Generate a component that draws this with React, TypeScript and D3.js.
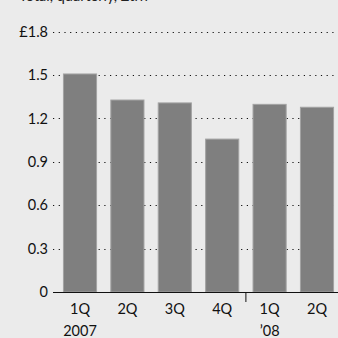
import React from "react";
import * as d3 from "d3";

const title = "Total, quarterly, £trn";
const categories = ["1Q 2007", "2Q 2007", "3Q 2007", "4Q 2007", "1Q 2008", "2Q 2008"];
const quarterLabels = ["1Q", "2Q", "3Q", "4Q", "1Q", "2Q"];
const yearLabels = ["2007", "", "", "", "’08", ""];
const values = [1.51, 1.33, 1.31, 1.06, 1.3, 1.28];
const yTicks = [0, 0.3, 0.6, 0.9, 1.2, 1.5, 1.8];

const W = 338;
const H = 338;
const FONT = "Lato, 'Open Sans', sans-serif";

export default function App() {
  const y = d3.scaleLinear().domain([0, 1.8]).range([292, 31.5]);
  const x = d3
    .scaleBand<string>()
    .domain(categories)
    .range([56.3, 340.7])
    .paddingInner(0.28)
    .paddingOuter(0.14);
  const fmt = (v: number) => (v === 0 ? "0" : v === 1.8 ? "£1.8" : d3.format(".1f")(v));
  const sepX = ((x(categories[3]) ?? 0) + x.bandwidth() + (x(categories[4]) ?? 0)) / 2;

  return (
    <div style={{ position: "fixed", left: 0, top: 0, width: W, height: H }}>
      <svg width={W} height={H} style={{ display: "block", background: "#ebebeb" }}>
        <text x={19} y={0.5} fontFamily={FONT} fontSize={14.5} fill="#222">
          {title}
        </text>
        {yTicks.map((t) =>
          t === 0 ? null : (
            <line
              key={"g" + t}
              x1={53}
              x2={W}
              y1={Math.round(y(t)) + 0.5}
              y2={Math.round(y(t)) + 0.5}
              stroke="#111"
              strokeWidth={1.1}
              strokeDasharray="1.2 4.5"
            />
          )
        )}
        {yTicks.map((t) => (
          <text
            key={"l" + t}
            x={48}
            y={y(t)}
            dy="0.36em"
            textAnchor="end"
            fontFamily={FONT}
            fontSize={14.5}
            fill="#111"
          >
            {fmt(t)}
          </text>
        ))}
        {categories.map((c, i) => (
          <rect
            key={c}
            x={(x(c) ?? 0) + 0.5}
            y={y(values[i]) + 0.5}
            width={x.bandwidth() - 1}
            height={y(0) - y(values[i]) - 0.5}
            fill="#7f7f7f"
            stroke="#a3a3a3"
            strokeWidth={1}
          />
        ))}
        <line x1={53} x2={W} y1={292.5} y2={292.5} stroke="#111" strokeWidth={1.2} />
        <line x1={sepX} x2={sepX} y1={292} y2={302} stroke="#111" strokeWidth={1} />
        {categories.map((c, i) => {
          const cx = (x(c) ?? 0) + x.bandwidth() / 2;
          return (
            <g key={"x" + c}>
              <text x={cx} y={313.5} textAnchor="middle" fontFamily={FONT} fontSize={14.5} fill="#111">
                {quarterLabels[i]}
              </text>
              {yearLabels[i] && (
                <text x={cx} y={335.5} textAnchor="middle" fontFamily={FONT} fontSize={14.5} fill="#111">
                  {yearLabels[i]}
                </text>
              )}
            </g>
          );
        })}
      </svg>
    </div>
  );
}
